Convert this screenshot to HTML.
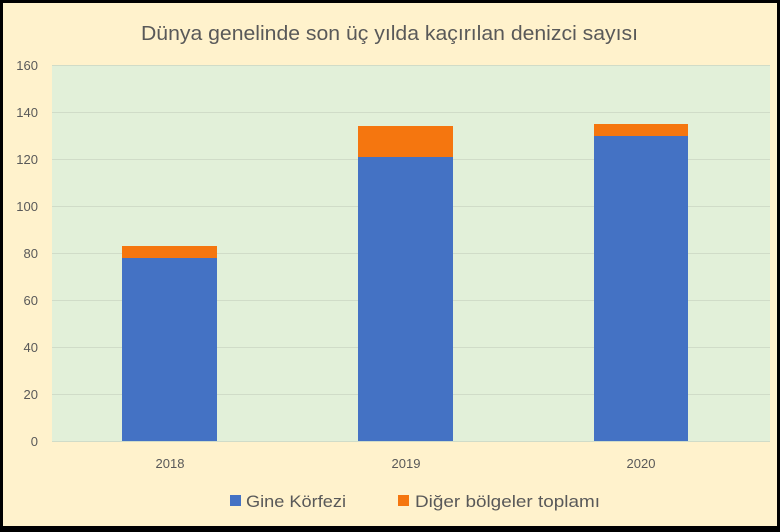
<!DOCTYPE html>
<html><head><meta charset="utf-8"><style>
html,body{margin:0;padding:0;background:#000}
svg{display:block}
text{font-family:"Liberation Sans",sans-serif;fill:#595959}
</style></head><body>
<svg width="780" height="532" xmlns="http://www.w3.org/2000/svg">
<rect x="0" y="0" width="780" height="532" fill="#000"/>
<rect x="3" y="3" width="774" height="523" fill="#FFF2CC"/>
<text x="141" y="40" font-size="20" textLength="497" lengthAdjust="spacingAndGlyphs" fill="#595959">Dünya genelinde son üç yılda kaçırılan denizci sayısı</text>
<rect x="52" y="65" width="718" height="376" fill="#E2F0D9"/>
<g stroke="#D0DCC8" stroke-width="1">
<line x1="52" x2="770" y1="65.5" y2="65.5"/>
<line x1="52" x2="770" y1="112.5" y2="112.5"/>
<line x1="52" x2="770" y1="159.5" y2="159.5"/>
<line x1="52" x2="770" y1="206.5" y2="206.5"/>
<line x1="52" x2="770" y1="253.5" y2="253.5"/>
<line x1="52" x2="770" y1="300.5" y2="300.5"/>
<line x1="52" x2="770" y1="347.5" y2="347.5"/>
<line x1="52" x2="770" y1="394.5" y2="394.5"/>
<line x1="52" x2="770" y1="441.5" y2="441.5"/>
</g>
<g font-size="13" text-anchor="end">
<text x="38" y="70">160</text><text x="38" y="117">140</text><text x="38" y="164">120</text>
<text x="38" y="211">100</text><text x="38" y="258">80</text><text x="38" y="305">60</text>
<text x="38" y="352">40</text><text x="38" y="399">20</text><text x="38" y="446">0</text>
</g>
<rect x="122" y="246" width="95" height="12" fill="#F5760F"/>
<rect x="122" y="258" width="95" height="183" fill="#4472C4"/>
<rect x="358" y="126" width="95" height="31" fill="#F5760F"/>
<rect x="358" y="157" width="95" height="284" fill="#4472C4"/>
<rect x="594" y="124" width="94" height="12" fill="#F5760F"/>
<rect x="594" y="136" width="94" height="305" fill="#4472C4"/>
<g font-size="13" text-anchor="middle">
<text x="170" y="468">2018</text><text x="406" y="468">2019</text><text x="641" y="468">2020</text>
</g>
<rect x="230" y="495" width="11" height="11" fill="#4472C4"/>
<text x="246" y="507" font-size="17" textLength="100" lengthAdjust="spacingAndGlyphs">Gine Körfezi</text>
<rect x="398" y="495" width="11" height="11" fill="#F5760F"/>
<text x="415" y="507" font-size="17" textLength="185" lengthAdjust="spacingAndGlyphs">Diğer bölgeler toplamı</text>
</svg>
</body></html>
